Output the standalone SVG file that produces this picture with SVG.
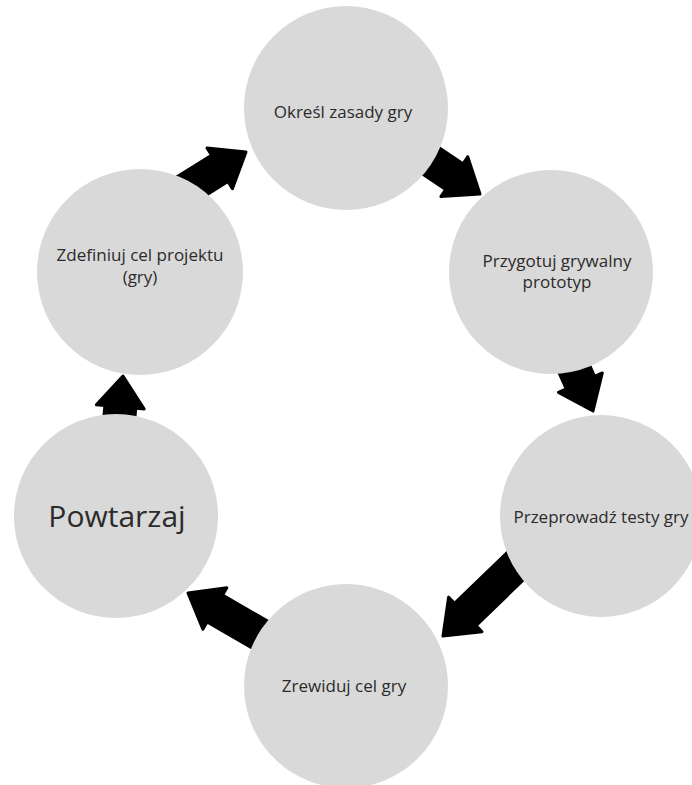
<svg xmlns="http://www.w3.org/2000/svg" width="692" height="785" viewBox="0 0 692 785">
<style>
.node{fill:#d9d9d9}
.lbl{font-family:"Open Sans","Noto Sans",sans-serif;font-size:17px;fill:#2b2b2b;text-anchor:middle}
.big{font-size:30px}
.arr{fill:#000;stroke:#000;stroke-width:3;stroke-linejoin:round}
</style>
<rect width="692" height="785" fill="#fff"/>
<g id="connectors">
<path class="arr" transform="translate(246,152) rotate(-32)" d="M0 0 L-31 -24 L-31 -15.5 L-75 -15.5 L-75 15.5 L-31 15.5 L-31 24 Z"/>
<path class="arr" transform="translate(480,194) rotate(34)" d="M0 0 L-31 -24 L-31 -15.5 L-75 -15.5 L-75 15.5 L-31 15.5 L-31 24 Z"/>
<path class="arr" transform="translate(593,411) rotate(66)" d="M0 0 L-31 -24 L-31 -15.5 L-75 -15.5 L-75 15.5 L-31 15.5 L-31 24 Z"/>
<path class="arr" transform="translate(443,636) rotate(136)" d="M0 0 L-31 -24 L-31 -15.5 L-110 -15.5 L-110 15.5 L-31 15.5 L-31 24 Z"/>
<path class="arr" transform="translate(188,593) rotate(210)" d="M0 0 L-31 -24 L-31 -15.5 L-90 -15.5 L-90 15.5 L-31 15.5 L-31 24 Z"/>
<path class="arr" transform="translate(123,376) rotate(-85)" d="M0 0 L-31 -24 L-31 -15.5 L-75 -15.5 L-75 15.5 L-31 15.5 L-31 24 Z"/>
</g>
<g id="node-okresl">
<circle class="node" cx="346" cy="108" r="102"/>
<text class="lbl" x="343" y="118">Określ zasady gry</text>
</g>
<g id="node-przygotuj">
<circle class="node" cx="551" cy="272" r="102"/>
<text class="lbl" x="557" y="267">Przygotuj grywalny</text>
<text class="lbl" x="557" y="288">prototyp</text>
</g>
<g id="node-testy">
<circle class="node" cx="601" cy="516" r="101"/>
<text class="lbl" x="601" y="523">Przeprowadź testy gry</text>
</g>
<g id="node-zrewiduj">
<circle class="node" cx="346" cy="686" r="102"/>
<text class="lbl" x="344" y="692">Zrewiduj cel gry</text>
</g>
<g id="node-powtarzaj">
<circle class="node" cx="116" cy="516" r="102"/>
<text class="lbl big" x="117" y="527">Powtarzaj</text>
</g>
<g id="node-zdefiniuj">
<circle class="node" cx="140" cy="272" r="103"/>
<text class="lbl" x="140" y="261">Zdefiniuj cel projektu</text>
<text class="lbl" x="140" y="283">(gry)</text>
</g>
</svg>
